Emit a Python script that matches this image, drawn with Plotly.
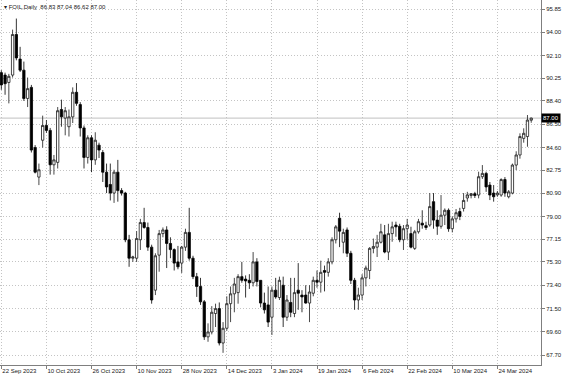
import plotly.graph_objects as go

# ---- data ----
opens = [90.7, 90.5, 89.9, 90.5, 93.8, 91.8, 90.9, 88.6, 89.5, 84.6,
         82.2, 85.2, 86.4, 86.0, 83.2, 83.4, 87.7, 87.0, 86.3, 87.1,
         89.1, 88.1, 86.2, 83.8, 85.4, 83.6, 84.8, 84.2, 82.6, 81.6,
         80.9, 82.6, 81.1, 80.9, 77.1, 75.6, 75.6, 77.1, 78.5, 78.1,
         76.5, 73.0, 75.85, 77.6, 77.9, 76.8, 76.3, 75.3, 75.2, 76.5,
         77.7, 75.6, 74.1, 73.3, 72.05, 69.2, 69.6, 71.1, 71.5, 68.7,
         69.9, 71.9, 72.7, 72.8, 74.1, 73.9, 73.8, 73.6, 75.3, 73.8,
         71.95, 71.8, 70.8, 73.0, 72.4, 73.4, 70.8, 72.0, 71.1, 73.0,
         72.6, 72.6, 71.95, 72.75, 73.8, 73.65, 74.6, 74.45, 75.3, 77.1,
         78.85, 76.9, 77.9, 76.0, 73.8, 72.2, 72.6, 74.0, 74.6, 76.4,
         76.5, 76.9, 77.5, 76.1, 77.6, 78.3, 78.2, 77.1, 78.0, 77.6,
         76.4, 77.75, 78.45, 78.25, 78.3, 80.2, 78.7, 78.2, 79.1, 79.5,
         78.0, 78.8, 79.4, 79.65, 80.5, 80.7, 80.85, 80.74, 82.23, 82.5,
         81.55, 80.9, 80.75, 80.74, 82.0, 80.6, 80.9, 83.18, 84.0, 85.35,
         85.5, 86.83]
highs = [90.9, 90.7, 90.6, 94.2, 95.1, 92.8, 91.6, 90.3, 89.7, 84.8,
         83.3, 87.2, 86.84, 86.2, 84.0, 87.9, 88.5, 87.9, 87.7, 89.5,
         89.85, 88.3, 86.4, 85.6, 85.6, 85.85, 85.0, 84.4, 83.3, 83.3,
         82.8, 83.6, 81.3, 81.0, 77.5, 75.8, 77.8, 78.8, 79.7, 78.5,
         76.7, 76.0, 77.9, 78.1, 78.2, 77.3, 76.4, 76.6, 76.6, 78.0,
         79.7, 75.8, 74.4, 74.0, 72.2, 70.3, 71.7, 71.9, 72.0, 70.4,
         72.5, 73.3, 74.0, 74.3, 75.3, 74.2, 74.3, 76.1, 75.6, 73.8,
         72.8, 73.3, 73.3, 74.0, 74.1, 74.1, 72.6, 74.0, 74.0, 75.2,
         73.0, 73.4, 73.4, 74.1, 74.6, 75.4, 75.0, 75.6, 77.3, 78.3,
         79.3, 78.0, 78.1, 76.2, 74.0, 73.2, 74.3, 75.0, 76.5, 77.2,
         77.5, 78.4, 78.3, 78.4, 78.57, 78.57, 78.4, 78.3, 78.8, 78.16,
         77.9, 78.8, 79.5, 78.57, 80.9, 80.9, 79.5, 80.74, 79.65, 79.65,
         79.0, 79.6, 79.7, 80.9, 81.0, 80.9, 81.0, 82.64, 83.18, 82.64,
         81.8, 81.55, 81.07, 82.1, 82.2, 81.15, 83.3, 84.3, 85.76, 86.17,
         87.25, 87.04]
lows = [89.3, 88.9, 88.2, 90.3, 91.7, 90.75, 88.4, 87.9, 84.2, 82.5,
        81.55, 84.6, 85.8, 82.4, 82.4, 82.9, 86.3, 85.6, 85.5, 86.6,
        88.0, 85.5, 82.9, 83.3, 82.6, 83.2, 83.75, 81.8, 80.9, 80.3,
        80.1, 80.2, 80.7, 76.9, 74.9, 75.3, 75.3, 76.27, 78.0, 76.2,
        71.9, 72.6, 74.5, 77.3, 74.8, 75.6, 74.6, 74.7, 74.4, 76.2,
        75.4, 73.9, 72.45, 71.8, 68.95, 68.8, 69.4, 70.0, 68.5, 67.9,
        69.7, 70.4, 71.2, 71.9, 73.6, 72.4, 73.1, 73.3, 73.3, 71.6,
        71.1, 70.0, 69.35, 72.3, 72.2, 70.0, 70.5, 70.8, 70.8, 71.4,
        71.2, 71.9, 70.4, 72.5, 73.2, 72.8, 72.9, 74.1, 75.1, 76.8,
        76.5, 76.0, 75.7, 73.5, 71.4, 71.4, 72.2, 73.3, 73.9, 76.0,
        75.7, 76.8, 76.0, 75.45, 76.94, 77.35, 76.9, 76.27, 77.1, 76.4,
        76.27, 77.6, 78.0, 77.9, 78.16, 78.0, 77.5, 78.0, 78.3, 77.75,
        77.7, 78.5, 78.7, 79.4, 80.2, 80.47, 80.5, 80.47, 82.05, 81.0,
        80.33, 80.2, 80.6, 80.6, 80.6, 80.47, 80.8, 82.77, 83.7, 85.0,
        84.67, 86.62]
closes = [89.7, 89.8, 90.4, 93.8, 91.9, 90.9, 88.6, 89.4, 84.4, 82.6,
          82.8, 86.4, 86.0, 83.2, 83.6, 87.6, 87.1, 87.6, 87.1, 89.1,
          88.2, 86.2, 83.8, 85.4, 83.6, 85.2, 84.4, 82.6, 81.4, 80.9,
          82.6, 81.1, 80.9, 77.1, 75.6, 75.7, 77.2, 78.5, 78.1, 76.5,
          72.2, 75.8, 77.6, 77.9, 76.8, 76.3, 75.2, 74.9, 76.5, 77.7,
          75.6, 74.1, 73.3, 72.05, 69.2, 69.6, 71.2, 71.5, 68.7, 69.9,
          71.9, 72.7, 73.5, 74.1, 73.8, 73.75, 73.6, 75.3, 73.7, 71.95,
          71.4, 70.4, 73.0, 72.45, 73.8, 70.8, 72.2, 71.2, 72.8, 72.75,
          72.45, 71.95, 72.85, 73.8, 73.65, 74.45, 74.45, 75.3, 77.1, 78.15,
          77.8, 77.7, 76.0, 73.8, 72.2, 72.6, 74.0, 74.8, 76.4, 76.55,
          76.9, 77.75, 76.1, 77.6, 78.15, 78.15, 77.1, 78.0, 78.3, 76.5,
          77.75, 78.57, 78.3, 78.1, 79.8, 78.7, 78.2, 79.1, 79.5, 78.0,
          78.8, 79.3, 79.0, 80.3, 80.75, 80.85, 80.7, 82.23, 82.5, 81.4,
          80.74, 80.6, 80.9, 82.0, 80.9, 81.0, 83.18, 84.0, 85.5, 85.76,
          86.84, 87.00]

date_labels = ["22 Sep 2023", "10 Oct 2023", "26 Oct 2023", "10 Nov 2023",
               "28 Nov 2023", "14 Dec 2023", "3 Jan 2024", "19 Jan 2024",
               "6 Feb 2024", "22 Feb 2024", "10 Mar 2024", "24 Mar 2024"]
label_step = 12
price_ticks = [95.85, 94.00, 92.10, 90.25, 88.40, 86.50, 84.60, 82.75,
               80.90, 79.00, 77.15, 75.30, 73.40, 71.50, 69.60, 67.70]
symbol = "FOIL,Daily"
last_price = closes[-1]

bars = list(range(len(opens)))
tick_bars = [i * label_step for i in range(len(date_labels))]

FONT = "Liberation Sans"
GRID = "#c4c4c4"
AXIS = "#7f7f7f"

fig = go.Figure()
fig.add_trace(go.Candlestick(
    x=bars, open=opens, high=highs, low=lows, close=closes,
    increasing=dict(line=dict(color="#1a1a1a", width=0.8), fillcolor="white"),
    decreasing=dict(line=dict(color="black", width=0.8), fillcolor="black"),
    whiskerwidth=0, hoverinfo="skip", showlegend=False,
))

fig.update_layout(
    width=564, height=376,
    margin=dict(l=0, r=23, t=0, b=11, autoexpand=False),
    paper_bgcolor="white", plot_bgcolor="white",
    font=dict(family=FONT, size=6, color="#202020"),
    showlegend=False,
    boxgap=0.12,
    xaxis=dict(
        range=[-0.35, 143.6], rangeslider=dict(visible=False),
        tickmode="array", tickvals=tick_bars, ticktext=date_labels,
        ticklabelposition="outside right",
        showgrid=True, gridcolor=GRID, griddash="1px,2px", gridwidth=1,
        showline=True, linecolor=AXIS, linewidth=1,
        ticks="outside", ticklen=3, tickcolor=AXIS,
        zeroline=False, automargin=False,
        tickfont=dict(family=FONT, size=6, color="#202020"),
    ),
    yaxis=dict(
        side="right", range=[66.91, 96.61],
        tickmode="array", tickvals=price_ticks,
        ticktext=[f"{v:.2f}" for v in price_ticks],
        showgrid=True, gridcolor=GRID, griddash="1px,2px", gridwidth=1,
        showline=True, linecolor=AXIS, linewidth=1, mirror=True,
        ticks="outside", ticklen=3, tickcolor=AXIS,
        zeroline=False, automargin=False,
        tickfont=dict(family=FONT, size=6, color="#202020"),
    ),
)

# bid line
fig.add_shape(type="line", xref="paper", x0=0, x1=1, yref="y",
              y0=last_price, y1=last_price,
              line=dict(color="#c0c0c0", width=1), layer="below")

# current price label
fig.add_annotation(xref="paper", x=1, yref="y", y=last_price,
                   xanchor="left", yanchor="middle", showarrow=False,
                   text=f"{last_price:.2f}", bgcolor="black",
                   font=dict(family=FONT, size=6, color="white"),
                   borderpad=1)

# header
o, h, l, c = opens[-1], highs[-1], lows[-1], closes[-1]
fig.add_annotation(xref="paper", x=0.004, yref="paper", y=1 - 7 / 365,
                   xanchor="left", yanchor="middle", showarrow=False,
                   text=f"▾ {symbol}  {o:.2f} {h:.2f} {l:.2f} {c:.2f}",
                   font=dict(family=FONT, size=6, color="#202020"))

fig.write_html("out.html")
